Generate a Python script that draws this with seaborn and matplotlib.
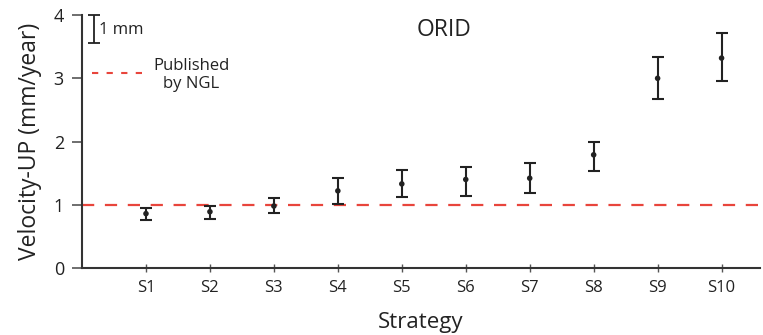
import numpy as np
import pandas as pd
import matplotlib
matplotlib.use('Agg')
import matplotlib.pyplot as plt
import seaborn as sns

# Data
STRATEGIES = ['S1', 'S2', 'S3', 'S4', 'S5', 'S6', 'S7', 'S8', 'S9', 'S10']
VELOCITY = [0.86, 0.89, 0.98, 1.22, 1.33, 1.40, 1.42, 1.79, 3.00, 3.32]
LOWER = [0.76, 0.77, 0.87, 1.01, 1.12, 1.14, 1.19, 1.53, 2.67, 2.96]
UPPER = [0.95, 0.98, 1.11, 1.43, 1.55, 1.60, 1.66, 2.00, 3.34, 3.71]
NGL_VELOCITY = 1.0
STATION = 'ORID'

sns.set_style('white')
plt.rcParams['font.family'] = ['Open Sans', 'DejaVu Sans']

df = pd.DataFrame({'strategy': STRATEGIES, 'velocity': VELOCITY,
                   'lower': LOWER, 'upper': UPPER})
df['pos'] = np.arange(len(df))

fig, ax = plt.subplots(figsize=(7.63, 3.35), dpi=100)
fig.subplots_adjust(left=0.1075, right=0.996, bottom=0.2, top=0.955)

ink = '#222222'
red = '#e8453c'

# NGL reference line
ax.axhline(NGL_VELOCITY, color=red, lw=1.6, dashes=(5.5, 4.8), zorder=1)

# error bars + points
yerr = [df['velocity'] - df['lower'], df['upper'] - df['velocity']]
ax.errorbar(df['pos'], df['velocity'], yerr=yerr, fmt='none', ecolor=ink,
            elinewidth=1.5, capsize=4.5, capthick=1.5, zorder=2)
sns.scatterplot(data=df, x='pos', y='velocity', color=ink, s=16,
                edgecolor='none', ax=ax, zorder=3)

# scale bar and legend decorations
ax.errorbar([-0.81], [3.78], yerr=0.22, fmt='none', ecolor=ink,
            elinewidth=1.3, capsize=4.5, capthick=1.3, clip_on=False)
ax.text(-0.74, 3.76, '1 mm', fontsize=12, va='center', ha='left', color=ink)
ax.plot([-0.85, -0.03], [3.09, 3.09], color=red, lw=1.5, dashes=(3, 4))
ax.text(0.71, 3.05, 'Published\nby NGL', fontsize=12, ha='center',
        va='center', color=ink, linespacing=1.15)
ax.text(4.66, 3.76, STATION, fontsize=16.5, ha='center', va='center', color=ink)

ax.set_xlim(-1.0, 9.6)
ax.set_ylim(0, 4)
ax.set_xticks(df['pos'])
ax.set_xticklabels(df['strategy'])
ax.set_yticks([0, 1, 2, 3, 4])

ax.set_xlabel('Strategy', fontsize=16, color=ink, labelpad=11)
ax.set_ylabel('Velocity-UP (mm/year)', fontsize=16.5, color=ink, labelpad=8)

sns.despine(ax=ax)
for side in ['left', 'bottom']:
    ax.spines[side].set_color('#333333')
    ax.spines[side].set_linewidth(1.5)
ax.tick_params(axis='y', left=True, direction='out', length=7, width=1.2,
               colors='#555555', labelcolor=ink, labelsize=13, pad=6)
ax.tick_params(axis='x', bottom=True, direction='inout', length=6, width=1,
               colors='#555555', labelcolor=ink, labelsize=12, pad=6)

plt.savefig('out.png', dpi=100)
